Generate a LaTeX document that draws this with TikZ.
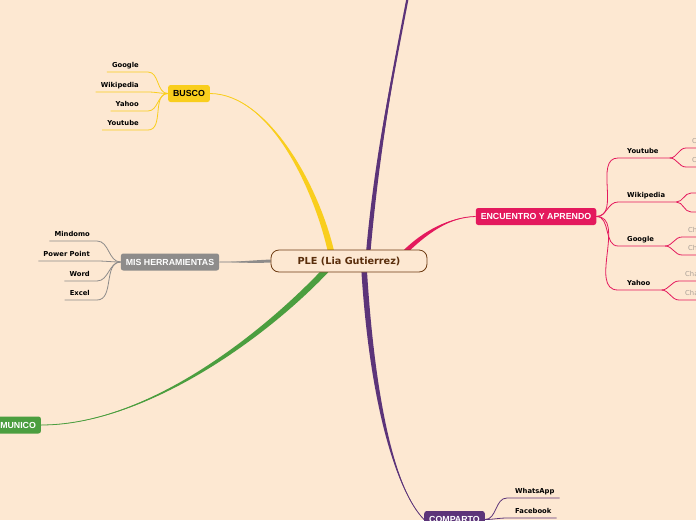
\documentclass[tikz,border=0pt]{standalone}
\usepackage{fontspec}
\setmainfont{DejaVu Sans}
\newfontfamily\topicfont{Liberation Sans}
\usetikzlibrary{calc}
\definecolor{paper}{HTML}{FDE8D2}
\definecolor{yelc}{HTML}{F9CE1D}
\definecolor{pinkc}{HTML}{E4195D}
\definecolor{greyc}{HTML}{8E8C8B}
\definecolor{purc}{HTML}{5C3479}
\definecolor{grnc}{HTML}{4B9E3F}
\definecolor{pleline}{HTML}{6E3B12}
\definecolor{pletext}{HTML}{5A2E0C}
\definecolor{gctext}{HTML}{A89F96}
\pgfdeclarelayer{bg}
\pgfsetlayers{bg,main}
% tapered main branch: colour, start, control 1, control 2, end, half width, end width
\newcommand{\taper}[7]{%
  \fill[#1] ($(#2)+#6$) .. controls ($(#3)+#6$) and (#4) .. (#5)
    .. controls (#4) and ($(#3)-#6$) .. ($(#2)-#6$) -- cycle;
  \draw[#1, line width=#7] (#2) .. controls (#3) and (#4) .. (#5);}

\begin{document}
\begin{tikzpicture}[x=1pt, y=-1pt,
  topic/.style={rounded corners=2.5pt, minimum height=17pt, inner xsep=5pt,
    inner ysep=0pt, text=white, font=\topicfont\bfseries\fontsize{8.8}{10}\selectfont},
  leaf/.style={inner sep=0pt, font=\bfseries\fontsize{6.8}{8}\selectfont},
  gc/.style={inner sep=0pt, text=gctext, font=\fontsize{6.8}{8}\selectfont},
  twig/.style={line width=0.8pt}]
  \useasboundingbox (0,0) rectangle (696,520);
  \clip (0,0) rectangle (696,520);

  \node[draw=pleline, fill=paper, line width=0.8pt, rounded corners=8pt,
    minimum width=156pt, minimum height=22pt, text=pletext,
    font=\bfseries\fontsize{9.7}{11}\selectfont] (ple) at (349,261) {PLE (Lia Gutierrez)};

  \node[topic, fill=yelc, text=black] (busco) at (189,93.5) {BUSCO};
  \node[topic, fill=greyc] (herr) at (170,262) {MIS HERRAMIENTAS};
  \node[topic, fill=pinkc] (enc) at (536,216.5) {ENCUENTRO Y APRENDO};
  \node[topic, fill=purc] (comp) at (454.5,519.5) {COMPARTO};
  \node[topic, fill=grnc] (comu) at (11.5,425) {COMUNICO};

  \coordinate (py) at (332,256);
  \coordinate (pu) at (368,255);
  \coordinate (pd) at (364,268);
  \coordinate (pp) at (404,253);
  \coordinate (pg) at (327,269);
  \coordinate (top) at (411,-20);

  \begin{pgfonlayer}{bg}
    \fill[paper] (0,0) rectangle (696,520);
    \clip (0,0) rectangle (696,520);
    \taper{yelc}{py}{318,190}{270,94}{busco.east}{(3.2,0)}{0.8pt}
    \taper{purc}{pu}{378,140}{398,50}{top}{(2.2,0)}{2.2pt}
    \taper{purc}{pd}{372,400}{395,490}{comp.west}{(2.8,0)}{0.8pt}
    \taper{pinkc}{pp}{425,232}{450,217}{enc.west}{(1.6,1.6)}{0.8pt}
    \taper{greyc}{ple.west}{250,262}{235,262}{herr.east}{(0,1.5)}{0.8pt}
    \taper{grnc}{pg}{270,330}{150,425}{comu.east}{(2.3,2.1)}{0.8pt}
  \end{pgfonlayer}

  % BUSCO
  \node[leaf, anchor=base east] (b1) at (139,67) {Google};
  \node[leaf, anchor=base east] (b2) at (139,87) {Wikipedia};
  \node[leaf, anchor=base east] (b3) at (139,106) {Yahoo};
  \node[leaf, anchor=base east] (b4) at (139,125) {Youtube};
  \foreach \n in {b1,b2,b3,b4}
    \draw[yelc, twig] ([shift={(-5pt,-5pt)}]\n.base west) -- ([shift={(9pt,-5pt)}]\n.base east)
      to[out=0, in=180] (busco.west);

  % MIS HERRAMIENTAS
  \node[leaf, anchor=base east] (h1) at (90,236) {Mindomo};
  \node[leaf, anchor=base east] (h2) at (90,256) {Power Point};
  \node[leaf, anchor=base east] (h3) at (90,276) {Word};
  \node[leaf, anchor=base east] (h4) at (90,295) {Excel};
  \foreach \n in {h1,h2,h3,h4}
    \draw[greyc, twig] ([shift={(-5pt,-5pt)}]\n.base west) -- ([shift={(7pt,-5pt)}]\n.base east)
      to[out=0, in=180] (herr.west);

  % ENCUENTRO Y APRENDO
  \node[leaf, anchor=base west] (e1) at (627,153) {Youtube};
  \node[leaf, anchor=base west] (e2) at (627,197) {Wikipedia};
  \node[leaf, anchor=base west] (e3) at (627,241) {Google};
  \node[leaf, anchor=base west] (e4) at (627,285) {Yahoo};
  \foreach \n in {e1,e2,e3,e4}
    \draw[pinkc, twig] (enc.east) to[out=0, in=180] ([shift={(-9pt,-5pt)}]\n.base west)
      -- ([shift={(11pt,-5pt)}]\n.base east) coordinate (\n x);

  \node[gc, anchor=base west] (e1a) at (692,143) {C};
  \node[gc, anchor=base west] (e1b) at (692,162) {C};
  \coordinate (e2a) at (691,193);
  \coordinate (e2b) at (691,212);
  \node[gc, anchor=base west] (e3a) at (688,232) {Ch};
  \node[gc, anchor=base west] (e3b) at (688,250) {Ch};
  \node[gc, anchor=base west] (e4a) at (685,276) {Cha};
  \node[gc, anchor=base west] (e4b) at (685,295) {Cha};
  \foreach \p in {e1,e3,e4}
    \foreach \q in {a,b}
      \draw[pinkc, twig] (\p x) to[out=0, in=180] ([shift={(-6pt,-5pt)}]\p\q.base west) -- ++(30,0);
  \foreach \q in {a,b}
    \draw[pinkc, twig] (e2x) to[out=0, in=180] (e2\q) -- ++(20,0);

  % COMPARTO
  \node[leaf, anchor=base west] (c1) at (515,493) {WhatsApp};
  \node[leaf, anchor=base west] (c2) at (515,513) {Facebook};
  \foreach \n in {c1,c2}
    \draw[purc, twig] (comp.east) to[out=0, in=180] ([shift={(-8pt,-5pt)}]\n.base west)
      -- ([shift={(5pt,-5pt)}]\n.base east);
\end{tikzpicture}
\end{document}
